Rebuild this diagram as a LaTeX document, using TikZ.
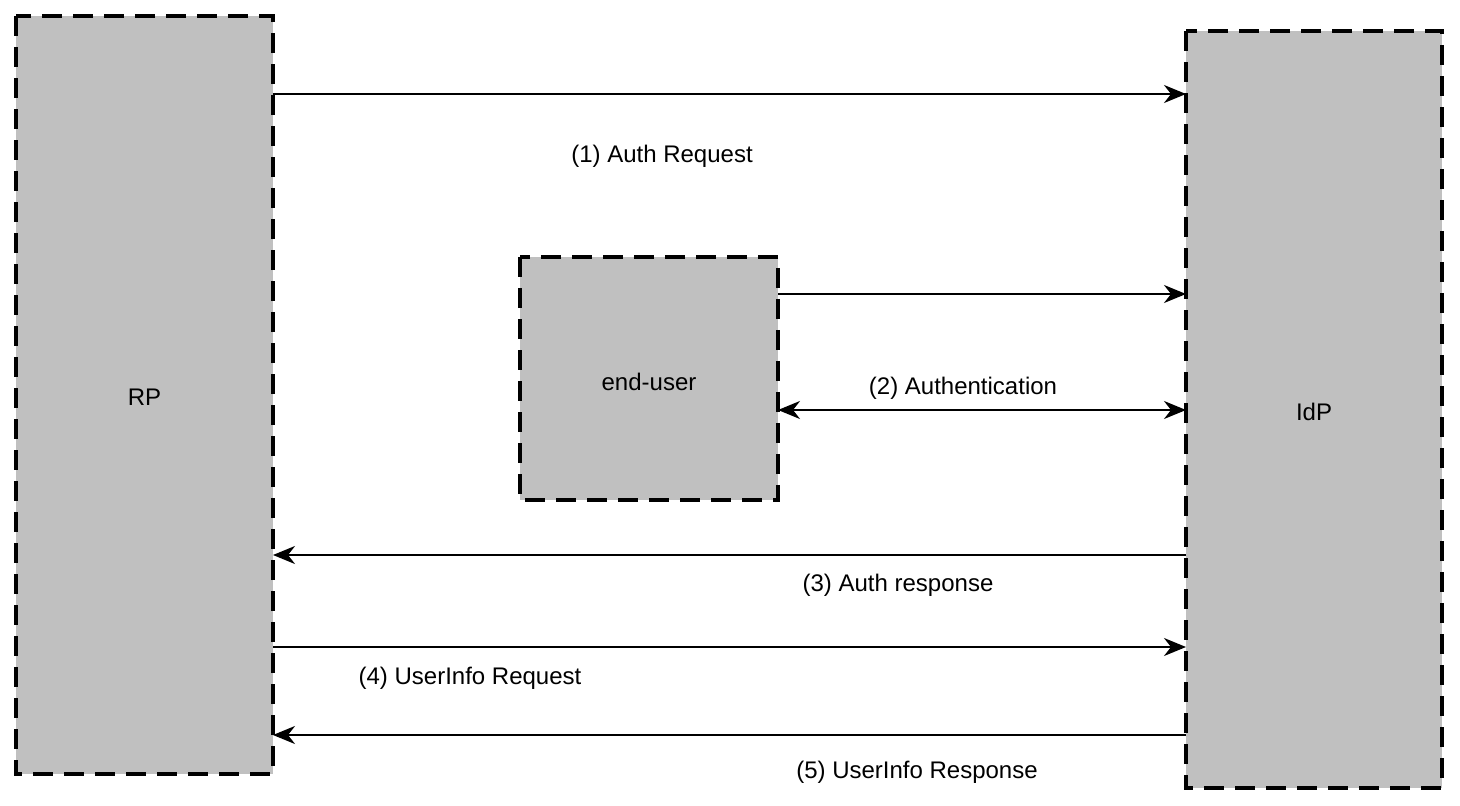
\documentclass[tikz,border=0pt]{standalone}
\usepackage{fontspec}
\setmainfont{Liberation Sans}
\usetikzlibrary{arrows.meta}
\begin{document}
\begin{tikzpicture}[x=1pt,y=-1pt,
  party/.style={draw=black,fill=boxgray,line width=4pt,dash pattern=on 20pt off 11pt},
  msg/.style={line width=2pt,-{Stealth[length=22pt,width=18pt,inset=7pt]}},
  lbl/.style={font=\fontsize{24}{28}\selectfont,inner sep=0pt}]
\definecolor{boxgray}{HTML}{C0C0C0}
\useasboundingbox (0,0) rectangle (1460,806);
\draw[party] (16,16) rectangle (273,774);
\draw[party] (1186,31) rectangle (1442,788);
\draw[party] (520,257) rectangle (778,500);
\node[lbl] (rp) at (144.5,397) {RP};
\node[lbl] (idp) at (1314,412) {IdP};
\node[lbl] (eu) at (649,382) {end-user};
\coordinate (a1s) at (273,94);   \coordinate (a1e) at (1186,94);
\coordinate (a2s) at (778,294);  \coordinate (a2e) at (1186,294);
\coordinate (b2s) at (778,410);  \coordinate (b2e) at (1186,410);
\coordinate (a3s) at (1186,555); \coordinate (a3e) at (273,555);
\coordinate (a4s) at (273,647);  \coordinate (a4e) at (1186,647);
\coordinate (a5s) at (1186,735); \coordinate (a5e) at (273,735);
\draw[msg] (a1s) -- (a1e);
\draw[msg] (a2s) -- (a2e);
\draw[msg,{Stealth[length=22pt,width=18pt,inset=7pt]}-{Stealth[length=22pt,width=18pt,inset=7pt]}] (b2s) -- (b2e);
\draw[msg] (a3s) -- (a3e);
\draw[msg] (a4s) -- (a4e);
\draw[msg] (a5s) -- (a5e);
\node[lbl] (l1) at (662,156) {(1) Auth Request};
\node[lbl] (l2) at (963,388) {(2) Authentication};
\node[lbl] (l3) at (898,585) {(3) Auth response};
\node[lbl] (l4) at (470,678) {(4) UserInfo Request};
\node[lbl] (l5) at (917,772) {(5) UserInfo Response};
\end{tikzpicture}
\end{document}
